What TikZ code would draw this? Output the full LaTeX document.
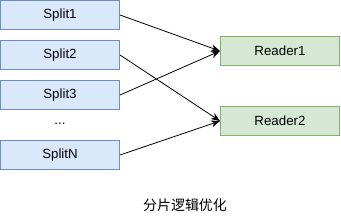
\documentclass[tikz,border=0pt]{standalone}
\usepackage{fontspec}
\setmainfont{Liberation Sans}
\newfontfamily\cjk{Noto Sans CJK SC}
\usetikzlibrary{arrows.meta}
\definecolor{bfill}{HTML}{DAE8FC}
\definecolor{bline}{HTML}{6C8EBF}
\definecolor{gfill}{HTML}{D5E8D4}
\definecolor{gline}{HTML}{82B366}
\tikzset{
  txt/.style={font=\fontsize{13.3pt}{15pt}\selectfont},
  splitbox/.style={txt,draw=bline,fill=bfill,line width=1pt,minimum width=119pt,minimum height=29pt,inner sep=0pt},
  readerbox/.style={txt,draw=gline,fill=gfill,line width=1pt,minimum width=119pt,minimum height=29pt,inner sep=0pt},
  conn/.style={-{Stealth[length=9pt,width=7pt]},line width=0.8pt,black},
}
\begin{document}
\begin{tikzpicture}[x=1pt,y=-1pt]
\useasboundingbox (0,0) rectangle (341,221);
\node[splitbox] (s1) at (60,15) {Split1};
\node[splitbox] (s2) at (60,55) {Split2};
\node[splitbox] (s3) at (60,95) {Split3};
\node[txt] (dots) at (60,124) {...};
\node[splitbox] (sn) at (60,155) {SplitN};
\node[readerbox] (r1) at (280,51) {Reader1};
\node[readerbox] (r2) at (280,121) {Reader2};
\draw[conn] (s1.east) -- (r1.west);
\draw[conn] (s3.east) -- (r1.west);
\draw[conn] (s2.east) -- (r2.west);
\draw[conn] (sn.east) -- (r2.west);
\node[font=\cjk\fontsize{14pt}{16pt}\selectfont] (cap) at (185,205) {分片逻辑优化};
\end{tikzpicture}
\end{document}
